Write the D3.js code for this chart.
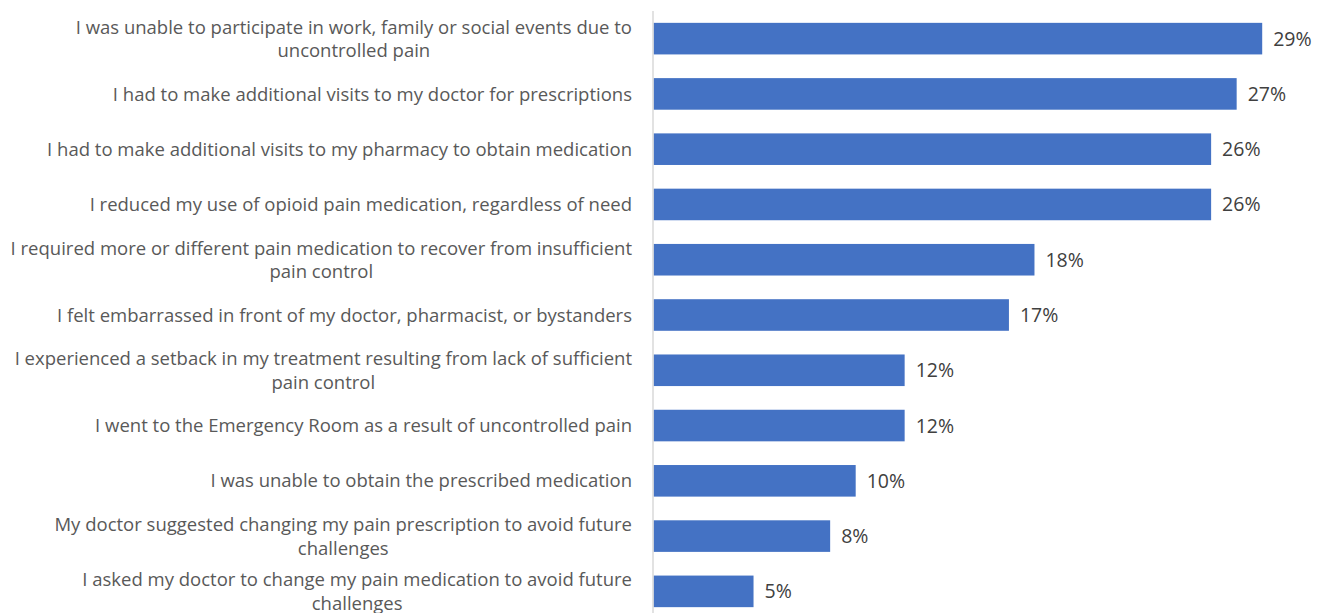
<!DOCTYPE html>
<html><head><meta charset="utf-8">
<script src="https://cdn.jsdelivr.net/npm/d3@7/dist/d3.min.js"></script>
<style>body{margin:0;background:#fff;} svg{display:block;}</style>
</head><body>
<svg id="chart" width="1319" height="613"></svg>
<script>
const categories = [
  "I was unable to participate in work, family or social events due to\nuncontrolled pain",
  "I had to make additional visits to my doctor for prescriptions",
  "I had to make additional visits to my pharmacy to obtain medication",
  "I reduced my use of opioid pain medication, regardless of need",
  "I required more or different pain medication to recover from insufficient\npain control",
  "I felt embarrassed in front of my doctor, pharmacist, or bystanders",
  "I experienced a setback in my treatment resulting from lack of sufficient\npain control",
  "I went to the Emergency Room as a result of uncontrolled pain",
  "I was unable to obtain the prescribed medication",
  "My doctor suggested changing my pain prescription to avoid future\nchallenges",
  "I asked my doctor to change my pain medication to avoid future\nchallenges"
];
const values = [0.286, 0.274, 0.262, 0.262, 0.179, 0.167, 0.118, 0.118, 0.095, 0.083, 0.047];
const valueLabels = ["29%", "27%", "26%", "26%", "18%", "17%", "12%", "12%", "10%", "8%", "5%"];
const xDomain = [0, 0.30];

const svg = d3.select("#chart");
const x = d3.scaleLinear().domain(xDomain).range([653.5, 1292]);
const y = d3.scaleBand().domain(categories).range([11, 619]).paddingInner(0.4286).paddingOuter(0.2143);

svg.append("g").selectAll("rect").data(categories).join("rect")
  .attr("x", x(0)).attr("y", d => y(d))
  .attr("width", (d, i) => x(values[i]) - x(0))
  .attr("height", y.bandwidth())
  .attr("fill", "#4472C4");

svg.append("g").selectAll("text").data(categories).join("text")
  .attr("x", (d, i) => x(values[i]) + 11)
  .attr("y", d => y(d) + y.bandwidth() / 2)
  .attr("dy", "0.36em")
  .attr("font-family", "Open Sans, sans-serif")
  .attr("font-size", 19.5)
  .attr("fill", "#404040")
  .text((d, i) => valueLabels[i]);

const yAxis = d3.axisLeft(y).tickSize(0).tickPadding(0).tickFormat("");
const ag = svg.append("g").attr("transform", `translate(${x(0) - 0.5},0)`).call(yAxis);
ag.select(".domain").attr("stroke", "#D9D9D9").attr("stroke-width", 1.5).attr("d", "M0,11V613");

const labelRight = 632;
const labels = svg.append("g").selectAll("text").data(categories).join("text")
  .attr("text-anchor", "middle")
  .attr("font-family", "Open Sans, sans-serif")
  .attr("font-size", 18.5)
  .attr("fill", "#595959");
labels.each(function(d) {
  const lines = d.split("\n");
  const cy = y(d) + y.bandwidth() / 2;
  const lh = 23.5;
  const t = d3.select(this);
  const spans = lines.map((ln, j) => t.append("tspan")
      .attr("y", cy + (j - (lines.length - 1) / 2) * lh)
      .attr("dy", "0.36em").text(ln));
  const maxW = d3.max(spans, s => s.node().getComputedTextLength());
  spans.forEach(s => s.attr("x", labelRight - maxW / 2));
});
</script>
</body></html>
